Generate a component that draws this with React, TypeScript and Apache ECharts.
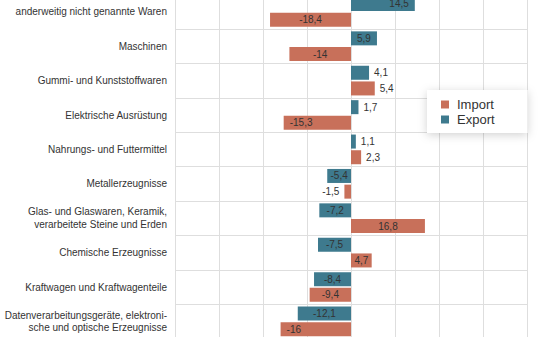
import React, { useEffect, useRef } from "react";
import * as echarts from "echarts";

const categories = [
  "anderweitig nicht genannte Waren",
  "Maschinen",
  "Gummi- und Kunststoffwaren",
  "Elektrische Ausrüstung",
  "Nahrungs- und Futtermittel",
  "Metallerzeugnisse",
  "Glas- und Glaswaren, Keramik,\nverarbeitete Steine und Erden",
  "Chemische Erzeugnisse",
  "Kraftwagen und Kraftwagenteile",
  "Datenverarbeitungsgeräte, elektroni-\nsche und optische Erzeugnisse",
];
const exportValues = [14.5, 5.9, 4.1, 1.7, 1.1, -5.4, -7.2, -7.5, -8.4, -12.1];
const importValues = [-18.4, -14, 5.4, -15.3, 2.3, -1.5, 16.8, 4.7, -9.4, -16];
const xTicks = [-40, -30, -20, -10, 0, 10, 20, 30, 40];

// label placement (style, not data)
const exportLabelPos = ["insideRight", "inside", "right", "right", "right", "inside", "inside", "inside", "inside", "inside"];
const importLabelPos = ["inside", "inside", "right", "insideLeft", "right", "left", "inside", "inside", "inside", "insideLeft"];

const FONT = "'Liberation Sans', Arial, sans-serif";
const EXPORT_COLOR = "#3e7a8e";
const IMPORT_COLOR = "#c8705a";
const GRID_COLOR = "#dedede";
const SHIFT = 10; // chart div is shifted up so the first band is cut off like in the original

const fmt = (v: number) => String(v).replace(".", ",");

const buildData = (vals: number[], pos: string[]) =>
  vals.map((v, i) => ({
    value: v,
    label: { position: pos[i], distance: pos[i] === "insideLeft" || pos[i] === "insideRight" ? 6 : 5 },
  }));

export default function App() {
  const ref = useRef<HTMLDivElement>(null);
  useEffect(() => {
    if (!ref.current) return;
    const chart = echarts.init(ref.current, undefined, { renderer: "svg" });
    const labelCommon = {
      show: true,
      formatter: (p: any) => fmt(p.value),
      fontSize: 10,
      fontFamily: FONT,
      color: "#333",
    };
    chart.setOption({
      animation: false,
      textStyle: { fontFamily: FONT },
      legend: {
        data: ["Import", "Export"],
        orient: "vertical",
        left: 427,
        top: 90 + SHIFT,
        padding: [8, 33, 7, 14],
        itemWidth: 8,
        itemHeight: 8,
        itemGap: 2,
        icon: "rect",
        backgroundColor: "#fff",
        shadowBlur: 10,
        shadowColor: "rgba(0,0,0,0.18)",
        shadowOffsetY: 2,
        textStyle: { fontSize: 13, color: "#333", fontFamily: FONT, padding: [0, 0, 0, 3] },
      },
      grid: { left: 175, right: 11, top: SHIFT - 5.4, bottom: 1.4, containLabel: false },
      xAxis: {
        type: "value",
        min: xTicks[0],
        max: xTicks[xTicks.length - 1],
        interval: 10,
        axisLine: { show: false },
        axisTick: { show: false },
        axisLabel: { show: false },
        splitLine: { show: true, lineStyle: { color: GRID_COLOR, width: 1 } },
      },
      yAxis: {
        type: "category",
        data: categories,
        inverse: true,
        axisLine: { show: false },
        axisTick: { show: true, interval: 0, length: 175, lineStyle: { color: GRID_COLOR } },
        axisLabel: {
          interval: 0,
          margin: 8,
          fontSize: 10,
          lineHeight: 12.5,
          color: "#333",
          fontFamily: FONT,
          align: "right",
        },
        splitLine: { show: true, interval: 0, lineStyle: { color: GRID_COLOR } },
      },
      series: [
        {
          name: "Export",
          type: "bar",
          data: buildData(exportValues, exportLabelPos),
          itemStyle: { color: EXPORT_COLOR },
          barWidth: 14,
          barGap: "12%",
          label: labelCommon,
        },
        {
          name: "Import",
          type: "bar",
          data: buildData(importValues, importLabelPos),
          itemStyle: { color: IMPORT_COLOR },
          barWidth: 14,
          barGap: "12%",
          label: labelCommon,
        },
      ],
    });
    return () => chart.dispose();
  }, []);
  return (
    <div
      ref={ref}
      style={{ position: "fixed", left: 0, top: -SHIFT, width: 538, height: 337 + 1.4 + SHIFT + 1.4, background: "#fff" }}
    />
  );
}
